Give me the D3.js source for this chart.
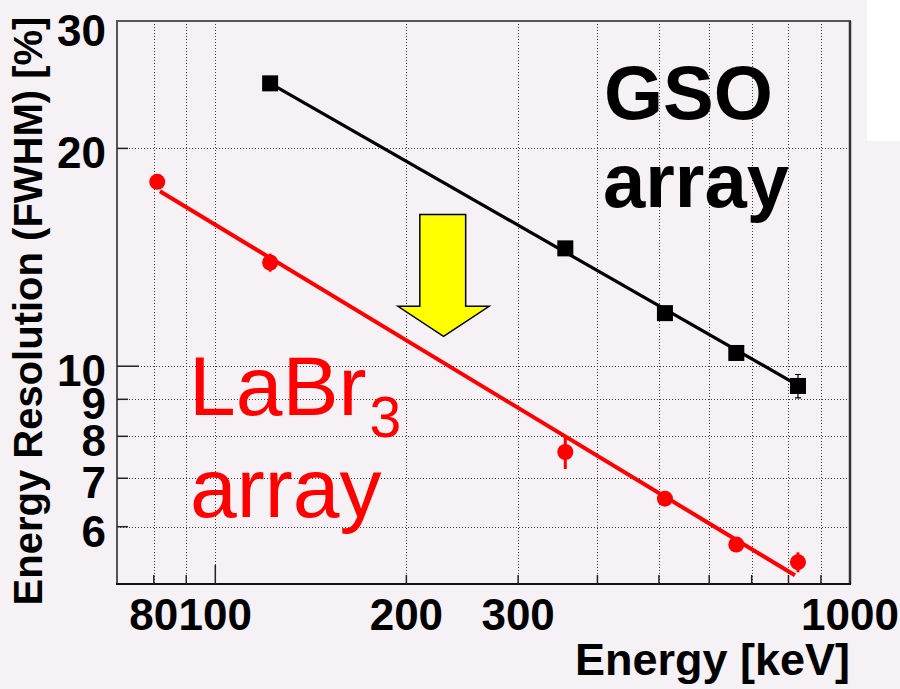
<!DOCTYPE html>
<html>
<head>
<meta charset="utf-8">
<script src="https://cdn.jsdelivr.net/npm/d3@7"></script>
<style>
  html, body { margin: 0; padding: 0; background: #f5f1f5; }
  svg { display: block; }
  text { font-family: "Liberation Sans", Arial, Helvetica, sans-serif; }
</style>
</head>
<body>
<svg id="chart" width="900" height="689"></svg>
<script>
// Energy resolution (FWHM) vs gamma-ray energy for two scintillator arrays
const gsoEnergy   = [122, 356, 511, 662, 828];
const gsoRes      = [24.6, 14.55, 11.84, 10.43, 9.39];
const gsoErr      = [0.1, 0.1, 0.1, 0.1, 0.35];

const labrEnergy  = [81, 122, 356, 511, 662, 828];
const labrRes     = [17.98, 13.91, 7.61, 6.56, 5.67, 5.36];
const labrErr     = [0.4, 0.4, 0.4, 0.1, 0.12, 0.17];

// power-law fits R = a * E^-b, drawn over [from, to] keV
const gsoFit  = { a: 273.9, b: 0.5017, from: 122, to: 828 };
const labrFit = { a: 180.5, b: 0.5305, from: 81.8, to: 819 };

// axis ticks
const xGridTicks  = [80, 90, 100, 200, 300, 400, 500, 600, 700, 800, 900];
const xMajorTicks = [100];
const xTickLabels = [80, 100, 200, 300, 1000];
const yGridTicks  = [6, 7, 8, 9, 10, 20];
const yMajorTicks = [10];
const yTickLabels = [6, 7, 8, 9, 10, 20, 30];

// down arrow (energy in keV, resolution in %)
const arrowShaftE = [210, 248];
const arrowHeadE  = [194, 270];
const arrowRes    = [16.2, 12.1, 11.0]; // top, shoulder, tip

const svg = d3.select("#chart");
const plot = { left: 117, top: 21, right: 850, bottom: 584 };

const x = d3.scaleLog().domain([70, 1000]).range([plot.left, plot.right]);
const y = d3.scaleLog().domain([5, 30]).range([plot.bottom, plot.top]);

// white patch in top-right corner
svg.append("rect").attr("x", 867).attr("y", 0).attr("width", 33).attr("height", 141)
  .attr("fill", "#ffffff");

// dotted grid
const grid = svg.append("g").attr("stroke", "#222").attr("stroke-width", 1)
  .attr("stroke-dasharray", "1,2").attr("opacity", 0.85);
grid.selectAll("line.vx").data(xGridTicks).join("line")
  .attr("x1", d => Math.round(x(d)) + 0.5).attr("x2", d => Math.round(x(d)) + 0.5)
  .attr("y1", plot.top).attr("y2", plot.bottom);
grid.selectAll("line.hy").data(yGridTicks).join("line")
  .attr("x1", plot.left).attr("x2", plot.right)
  .attr("y1", d => Math.round(y(d)) + 0.5).attr("y2", d => Math.round(y(d)) + 0.5);

// frame
svg.append("rect")
  .attr("x", plot.left).attr("y", plot.top)
  .attr("width", plot.right - plot.left).attr("height", plot.bottom - plot.top)
  .attr("fill", "none").attr("stroke", "#555").attr("stroke-width", 2);
svg.append("line").attr("x1", plot.right).attr("x2", plot.right)
  .attr("y1", plot.top).attr("y2", plot.bottom).attr("stroke", "#333").attr("stroke-width", 2.5);
svg.append("line").attr("x1", plot.left - 1).attr("x2", plot.right + 1)
  .attr("y1", plot.bottom).attr("y2", plot.bottom).attr("stroke", "#111").attr("stroke-width", 2);

// tick marks
const ticks = svg.append("g").attr("stroke", "#222").attr("stroke-width", 1.5);
ticks.selectAll("line.xt").data(xGridTicks).join("line")
  .attr("x1", d => x(d)).attr("x2", d => x(d))
  .attr("y1", plot.bottom).attr("y2", d => plot.bottom - (xMajorTicks.includes(d) ? 19 : 9));
ticks.selectAll("line.yt").data(yGridTicks).join("line")
  .attr("y1", d => y(d)).attr("y2", d => y(d))
  .attr("x1", plot.left).attr("x2", d => plot.left + (yMajorTicks.includes(d) ? 22 : 11));

// tick labels
svg.append("g").selectAll("text").data(yTickLabels).join("text")
  .attr("x", 106).attr("y", d => Math.max(y(d), 26) + 4)
  .attr("dy", "0.36em").attr("text-anchor", "end")
  .attr("font-size", 44).attr("font-weight", "bold").attr("fill", "#000")
  .text(d => d);
svg.append("g").selectAll("text").data(xTickLabels).join("text")
  .attr("x", d => x(d)).attr("y", 630)
  .attr("text-anchor", "middle")
  .attr("font-size", 44).attr("font-weight", "bold").attr("fill", "#000")
  .text(d => d);

// axis titles
svg.append("text")
  .attr("transform", "translate(42,311) rotate(-90)")
  .attr("text-anchor", "middle")
  .attr("font-size", 40).attr("font-weight", "bold")
  .text("Energy Resolution (FWHM) [%]");
svg.append("text")
  .attr("x", plot.right).attr("y", 675).attr("text-anchor", "end")
  .attr("font-size", 45).attr("font-weight", "bold")
  .text("Energy [keV]");

// fit lines
const line = d3.line().x(d => x(d[0])).y(d => y(d[1]));
function fitPoints(f) {
  return [f.from, f.to].map(e => [e, f.a * Math.pow(e, -f.b)]);
}
svg.append("path").datum(fitPoints(gsoFit)).attr("d", line)
  .attr("fill", "none").attr("stroke", "#000").attr("stroke-width", 3.2);
svg.append("path").datum(fitPoints(labrFit)).attr("d", line)
  .attr("fill", "none").attr("stroke", "#ff0000").attr("stroke-width", 4);

// GSO points with error bars
const gso = gsoEnergy.map((e, i) => ({ e, r: gsoRes[i], err: gsoErr[i] }));
const gG = svg.append("g");
gG.selectAll("line.err").data(gso).join("line")
  .attr("x1", d => x(d.e)).attr("x2", d => x(d.e))
  .attr("y1", d => y(d.r + d.err)).attr("y2", d => y(d.r - d.err))
  .attr("stroke", "#000").attr("stroke-width", 1.2);
gG.selectAll("path.cap").data(gso).join("path")
  .attr("d", d => `M${x(d.e) - 3},${y(d.r + d.err)}h6M${x(d.e) - 3},${y(d.r - d.err)}h6`)
  .attr("stroke", "#000").attr("stroke-width", 1.2);
gG.selectAll("rect").data(gso).join("rect")
  .attr("x", d => x(d.e) - 8).attr("y", d => y(d.r) - 8)
  .attr("width", 16).attr("height", 16).attr("fill", "#000");

// LaBr3 points with error bars
const labr = labrEnergy.map((e, i) => ({ e, r: labrRes[i], err: labrErr[i] }));
const gL = svg.append("g");
gL.selectAll("line").data(labr).join("line")
  .attr("x1", d => x(d.e)).attr("x2", d => x(d.e))
  .attr("y1", d => y(d.r + d.err)).attr("y2", d => y(d.r - d.err))
  .attr("stroke", "#ff0000").attr("stroke-width", 3);
gL.selectAll("circle").data(labr).join("circle")
  .attr("cx", d => x(d.e)).attr("cy", d => y(d.r)).attr("r", 8)
  .attr("fill", "#ff0000");

// arrow
const ap = [
  [arrowShaftE[0], arrowRes[0]], [arrowShaftE[1], arrowRes[0]],
  [arrowShaftE[1], arrowRes[1]], [arrowHeadE[1], arrowRes[1]],
  [Math.sqrt(arrowHeadE[0] * arrowHeadE[1]), arrowRes[2]],
  [arrowHeadE[0], arrowRes[1]], [arrowShaftE[0], arrowRes[1]]
];
svg.append("path")
  .attr("d", "M" + ap.map(p => `${x(p[0])},${y(p[1])}`).join("L") + "Z")
  .attr("fill", "#ffff00").attr("stroke", "#000").attr("stroke-width", 1.5)
  .attr("stroke-linejoin", "miter");

// series labels
const gsoLabel = svg.append("text").attr("font-size", 76).attr("font-weight", "bold").attr("fill", "#000");
gsoLabel.append("tspan").attr("x", 604).attr("y", 119).text("GSO");
gsoLabel.append("tspan").attr("x", 603).attr("y", 207).text("array");

const labrLabel = svg.append("text").attr("font-size", 84).attr("fill", "#ff0000");
labrLabel.append("tspan").attr("x", 189).attr("y", 415).text("LaBr");
labrLabel.append("tspan").attr("dx", 3).attr("dy", 22).attr("font-size", 57).text("3");
svg.append("text").attr("font-size", 84).attr("fill", "#ff0000")
  .attr("x", 190).attr("y", 517).text("array");
</script>
</body>
</html>
